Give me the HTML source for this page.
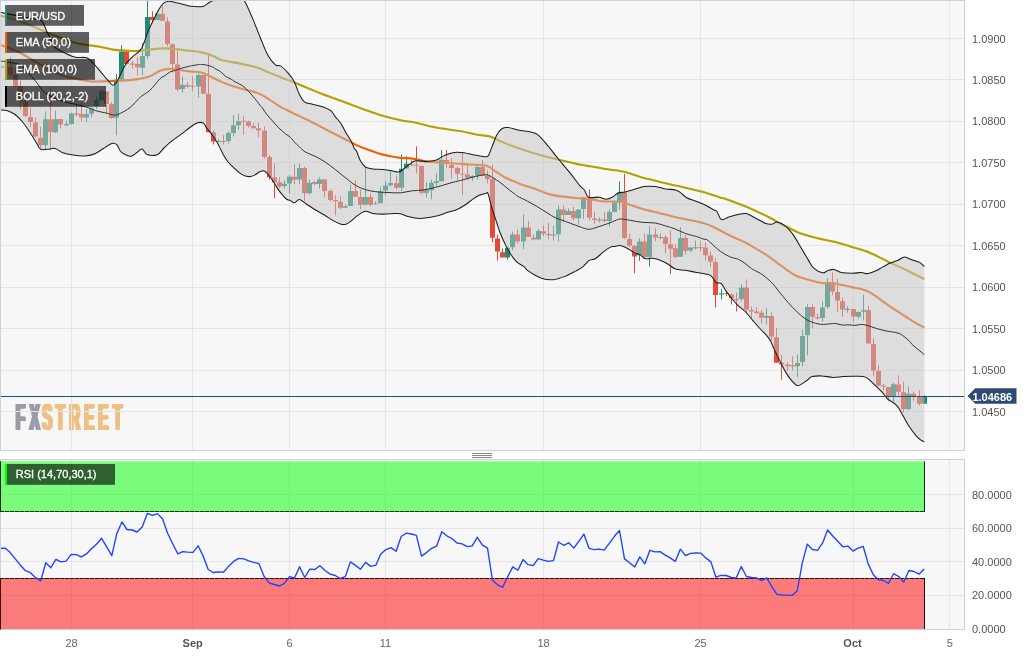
<!DOCTYPE html>
<html lang="en"><head><meta charset="utf-8"><title>EUR/USD chart</title>
<style>html,body{margin:0;padding:0;background:#fff}body{width:1035px;height:656px;overflow:hidden}svg{display:block;will-change:transform}text{font-family:"Liberation Sans",Arial,sans-serif;font-size:11px}</style></head><body>
<svg width="1035" height="656" viewBox="0 0 1035 656">
<defs><clipPath id="cm"><rect x="0" y="0" width="964" height="450"/></clipPath><clipPath id="cr"><rect x="0" y="460" width="964" height="170"/></clipPath></defs>
<rect width="1035" height="656" fill="#fff"/>
<rect x="0" y="0" width="964.5" height="450.5" fill="#f7f7f7"/>
<defs><g id="lg" transform="scale(0.405,1)" font-weight="bold"><text y="0" style="font-size:37.5px"><tspan x="36.0 69.9" fill="#9a9da8">FX</tspan><tspan x="100.7 134.6 167.7 204.9 239.3 275.8" fill="#efc084">STREET</tspan></text></g></defs>
<use href="#lg" x="0.00" y="430.2"/>
<use href="#lg" x="0.65" y="430.2"/>
<use href="#lg" x="1.30" y="430.2"/>
<use href="#lg" x="1.95" y="430.2"/>
<use href="#lg" x="2.60" y="430.2"/>
<path d="M0,38.5H964M0,79.5H964M0,121.5H964M0,162.5H964M0,204.5H964M0,245.5H964M0,287.5H964M0,328.5H964M0,370.5H964M0,411.5H964M71.5,0V450M192.5,0V450M289.5,0V450M385.5,0V450M543.5,0V450M700.5,0V450M853.5,0V450M949.5,0V450" stroke="#e5e5e5" stroke-width="1" fill="none"/>
<g clip-path="url(#cm)">
<path d="M0.5,64.6V70.0M5.5,66.0V68.0M45.5,111.3V149.0M55.5,110.3V133.3M66.5,120.8V126.4M71.5,112.7V124.5M86.5,109.4V122.0M91.5,107.0V117.4M96.5,96.3V108.8M101.5,89.1V100.2M116.5,74.1V135.3M121.5,45.2V79.8M142.5,43.3V75.4M147.5,0.0V59.0M157.5,13.8V20.1M182.5,76.3V92.7M198.5,73.2V97.7M218.5,138.9V142.0M228.5,131.3V143.6M233.5,115.2V136.5M238.5,113.5V129.8M284.5,180.3V188.5M289.5,175.0V193.5M299.5,163.6V184.3M309.5,179.6V194.5M319.5,177.3V188.4M345.5,204.7V207.8M350.5,184.6V205.9M365.5,167.6V205.3M375.5,201.3V204.3M380.5,186.5V203.2M385.5,180.8V195.3M390.5,170.1V186.5M401.5,154.4V191.0M406.5,156.3V168.5M426.5,182.5V197.6M431.5,179.6V199.3M436.5,173.3V186.5M441.5,150.1V181.5M472.5,175.2V180.9M477.5,165.8V179.6M507.5,246.6V259.7M512.5,231.5V250.3M523.5,214.5V249.1M538.5,229.2V239.6M553.5,225.5V240.3M558.5,205.7V241.5M568.5,208.2V214.9M578.5,209.5V224.6M583.5,197.6V219.2M599.5,217.5V222.5M609.5,209.6V226.3M614.5,199.9V212.1M619.5,181.3V210.2M639.5,238.3V260.9M649.5,226.4V266.5M660.5,233.9V239.5M680.5,227.3V256.7M690.5,247.4V252.4M695.5,240.6V249.5M721.5,288.8V299.5M741.5,284.3V301.4M766.5,308.3V324.2M797.5,354.6V377.2M802.5,329.6V366.3M807.5,304.2V355.2M822.5,301.5V321.5M827.5,278.3V308.7M847.5,306.2V312.8M858.5,311.3V318.7M863.5,294.5V320.3M893.5,382.7V401.6M908.5,386.3V410.4M924.5,395.3V403.8" stroke="#278b74" stroke-width="1" fill="none"/>
<path d="M10.5,57.0V78.0M15.5,68.3V86.5M20.5,80.5V109.4M25.5,100.0V117.0M30.5,107.6V127.0M35.5,117.6V137.5M40.5,127.0V147.8M50.5,86.6V149.6M60.5,118.9V128.3M76.5,103.2V116.4M81.5,102.5V121.4M106.5,91.4V112.8M111.5,102.0V118.9M126.5,51.5V64.1M132.5,60.9V68.5M137.5,57.2V75.4M152.5,11.3V23.2M162.5,5.7V20.7M167.5,17.6V46.5M172.5,43.3V72.6M177.5,50.3V90.8M187.5,82.0V88.3M192.5,76.3V91.4M203.5,75.1V93.7M208.5,53.4V132.2M213.5,130.2V144.5M223.5,135.2V144.5M243.5,116.4V134.4M248.5,120.7V127.6M253.5,123.3V128.6M258.5,122.4V137.5M264.5,126.4V158.7M269.5,155.2V179.7M274.5,163.4V198.0M279.5,177.2V188.5M294.5,164.2V184.3M304.5,166.6V200.9M314.5,180.8V185.2M324.5,179.4V197.1M330.5,189.2V201.3M335.5,195.3V215.4M340.5,196.5V209.3M355.5,180.6V197.1M360.5,189.6V209.3M370.5,193.4V206.6M396.5,175.5V189.6M411.5,160.4V166.4M416.5,146.3V173.3M421.5,166.0V194.7M446.5,150.1V167.7M451.5,158.2V178.3M457.5,166.4V180.2M462.5,153.2V195.3M467.5,163.6V180.2M482.5,160.1V175.8M487.5,170.2V183.4M492.5,164.5V242.2M497.5,234.6V260.4M502.5,248.4V257.6M517.5,229.6V243.4M528.5,220.8V237.1M533.5,234.6V240.5M543.5,225.5V236.3M548.5,222.7V239.6M563.5,205.7V222.4M573.5,206.6V220.4M589.5,189.4V220.2M594.5,211.5V224.0M604.5,212.5V222.5M624.5,173.8V239.3M629.5,233.3V247.0M634.5,245.8V273.4M644.5,233.6V259.0M655.5,228.3V241.2M665.5,235.2V253.3M670.5,230.5V274.3M675.5,244.3V258.3M685.5,235.2V254.6M700.5,241.2V251.4M705.5,242.5V260.2M710.5,251.4V267.1M715.5,258.3V307.4M726.5,292.0V296.0M731.5,293.2V304.5M736.5,292.6V311.5M746.5,279.4V313.3M751.5,306.7V318.4M756.5,307.4V314.0M761.5,310.5V323.3M771.5,312.5V340.8M776.5,327.7V362.7M781.5,354.6V379.7M787.5,362.5V370.9M792.5,356.5V370.3M812.5,304.2V328.4M817.5,313.4V319.7M832.5,272.4V295.2M837.5,278.7V311.5M842.5,297.4V316.5M853.5,309.0V322.3M868.5,305.5V343.5M873.5,338.2V376.2M878.5,365.3V386.5M883.5,384.0V390.3M888.5,387.1V400.3M898.5,375.2V395.3M903.5,381.5V412.3M913.5,391.5V401.0M919.5,390.3V405.4" stroke="#e04c38" stroke-width="1" fill="none"/>
<path d="M-2.0,66.6h5v1.0h-5zM3.0,66.7h5v0.9h-5zM43.0,119.2h5v25.7h-5zM53.0,119.2h5v13.1h-5zM64.0,124.1h5v1.1h-5zM69.0,113.6h5v10.5h-5zM84.0,114.1h5v3.3h-5zM89.0,108.2h5v5.6h-5zM94.0,100.0h5v5.7h-5zM99.0,90.8h5v9.4h-5zM114.0,79.8h5v37.9h-5zM119.0,51.5h5v28.3h-5zM140.0,55.9h5v11.9h-5zM145.0,17.0h5v38.9h-5zM155.0,13.8h5v6.3h-5zM180.0,85.1h5v3.8h-5zM196.0,75.1h5v11.5h-5zM216.0,141.1h5v0.9h-5zM226.0,133.0h5v8.1h-5zM231.0,125.2h5v7.8h-5zM236.0,121.2h5v4.0h-5zM282.0,183.8h5v2.2h-5zM287.0,176.8h5v6.8h-5zM297.0,167.9h5v11.7h-5zM307.0,182.7h5v10.6h-5zM317.0,179.5h5v4.4h-5zM343.0,206.3h5v1.5h-5zM348.0,190.9h5v15.0h-5zM363.0,197.1h5v7.6h-5zM373.0,203.4h5v0.9h-5zM378.0,191.5h5v11.7h-5zM383.0,185.5h5v5.0h-5zM388.0,183.1h5v2.1h-5zM399.0,168.8h5v18.9h-5zM404.0,163.8h5v4.7h-5zM424.0,190.3h5v2.5h-5zM429.0,182.7h5v7.6h-5zM434.0,181.2h5v1.8h-5zM439.0,160.1h5v21.1h-5zM470.0,176.1h5v0.9h-5zM475.0,167.0h5v8.8h-5zM505.0,247.8h5v9.8h-5zM510.0,234.4h5v12.8h-5zM521.0,227.5h5v14.0h-5zM536.0,230.9h5v8.7h-5zM551.0,234.6h5v0.9h-5zM556.0,209.5h5v24.7h-5zM566.0,211.1h5v3.8h-5zM576.0,209.5h5v8.8h-5zM581.0,197.6h5v11.3h-5zM597.0,219.5h5v0.9h-5zM607.0,212.1h5v8.8h-5zM612.0,202.7h5v9.4h-5zM617.0,192.6h5v10.1h-5zM637.0,241.4h5v13.8h-5zM647.0,234.6h5v22.5h-5zM658.0,237.0h5v0.9h-5zM678.0,238.0h5v18.7h-5zM688.0,247.4h5v3.0h-5zM693.0,247.3h5v0.9h-5zM719.0,293.4h5v1.0h-5zM739.0,287.6h5v11.3h-5zM764.0,316.0h5v1.8h-5zM795.0,363.0h5v3.3h-5zM800.0,336.1h5v26.0h-5zM805.0,307.0h5v28.2h-5zM820.0,307.5h5v10.4h-5zM825.0,282.6h5v24.5h-5zM845.0,308.7h5v1.2h-5zM856.0,312.1h5v4.6h-5zM861.0,310.3h5v1.5h-5zM891.0,384.2h5v11.7h-5zM906.0,393.8h5v15.3h-5zM922.0,396.6h5v7.2h-5z" fill="#278b74"/>
<path d="M8.0,67.1h5v7.6h-5zM13.0,74.7h5v11.3h-5zM18.0,86.0h5v15.5h-5zM23.0,101.5h5v14.6h-5zM28.0,117.0h5v5.0h-5zM33.0,122.6h5v13.9h-5zM38.0,137.7h5v7.6h-5zM48.0,119.2h5v12.9h-5zM58.0,118.9h5v5.6h-5zM74.0,113.6h5v1.2h-5zM79.0,114.1h5v3.5h-5zM104.0,91.4h5v12.6h-5zM109.0,104.0h5v13.9h-5zM124.0,51.5h5v12.6h-5zM130.0,63.4h5v1.3h-5zM135.0,64.1h5v3.1h-5zM150.0,17.0h5v3.1h-5zM160.0,13.8h5v6.9h-5zM165.0,21.4h5v22.6h-5zM170.0,44.6h5v19.4h-5zM175.0,64.4h5v25.1h-5zM185.0,85.1h5v1.3h-5zM190.0,85.8h5v0.9h-5zM201.0,75.1h5v18.6h-5zM206.0,93.7h5v38.5h-5zM211.0,132.2h5v9.4h-5zM221.0,141.1h5v0.9h-5zM241.0,120.8h5v0.9h-5zM246.0,121.6h5v4.5h-5zM251.0,126.1h5v2.2h-5zM256.0,128.3h5v2.1h-5zM262.0,130.7h5v26.4h-5zM267.0,157.1h5v20.1h-5zM272.0,177.2h5v5.0h-5zM277.0,182.2h5v4.2h-5zM292.0,176.8h5v3.0h-5zM302.0,167.9h5v25.4h-5zM312.0,182.1h5v1.9h-5zM322.0,179.4h5v11.5h-5zM328.0,190.9h5v9.1h-5zM333.0,200.0h5v1.2h-5zM338.0,201.8h5v6.0h-5zM353.0,190.9h5v5.9h-5zM358.0,197.1h5v7.6h-5zM368.0,197.1h5v7.6h-5zM394.0,183.0h5v4.7h-5zM409.0,164.2h5v0.9h-5zM414.0,164.7h5v1.0h-5zM419.0,166.0h5v26.8h-5zM444.0,160.1h5v3.8h-5zM449.0,164.9h5v3.0h-5zM455.0,167.9h5v5.8h-5zM460.0,173.7h5v0.9h-5zM465.0,174.6h5v3.1h-5zM480.0,167.0h5v8.8h-5zM485.0,175.8h5v3.2h-5zM490.0,179.0h5v58.8h-5zM495.0,238.4h5v13.2h-5zM500.0,252.2h5v5.4h-5zM515.0,234.4h5v7.1h-5zM526.0,227.5h5v9.6h-5zM531.0,237.8h5v1.8h-5zM541.0,231.2h5v2.5h-5zM546.0,234.0h5v1.3h-5zM561.0,209.5h5v5.4h-5zM571.0,211.1h5v7.2h-5zM587.0,197.6h5v20.1h-5zM592.0,218.4h5v1.6h-5zM602.0,219.6h5v1.3h-5zM622.0,192.6h5v45.4h-5zM627.0,239.0h5v6.8h-5zM632.0,245.8h5v10.7h-5zM642.0,241.4h5v15.7h-5zM653.0,234.6h5v3.0h-5zM663.0,237.2h5v6.9h-5zM668.0,244.3h5v4.4h-5zM673.0,248.3h5v8.8h-5zM683.0,238.0h5v12.8h-5zM698.0,247.3h5v0.9h-5zM703.0,247.4h5v7.8h-5zM708.0,255.5h5v6.2h-5zM713.0,262.1h5v32.8h-5zM724.0,293.2h5v0.9h-5zM729.0,294.5h5v3.8h-5zM734.0,298.9h5v1.0h-5zM744.0,287.6h5v22.0h-5zM749.0,309.9h5v1.6h-5zM754.0,311.5h5v1.5h-5zM759.0,312.7h5v5.1h-5zM769.0,316.0h5v20.5h-5zM774.0,337.3h5v25.4h-5zM779.0,362.7h5v1.5h-5zM785.0,364.6h5v1.3h-5zM790.0,365.3h5v1.2h-5zM810.0,307.0h5v9.7h-5zM815.0,317.2h5v1.2h-5zM830.0,282.5h5v8.9h-5zM835.0,292.0h5v8.4h-5zM840.0,301.2h5v8.4h-5zM851.0,309.0h5v7.5h-5zM866.0,310.3h5v33.2h-5zM871.0,343.9h5v26.7h-5zM876.0,371.0h5v14.5h-5zM881.0,385.5h5v1.0h-5zM886.0,387.1h5v9.2h-5zM896.0,384.6h5v7.2h-5zM901.0,392.2h5v16.9h-5zM911.0,393.8h5v2.1h-5zM917.0,395.9h5v7.9h-5z" fill="#e04c38"/>
<path d="M0.0,44.8C2.9,45.9 11.3,48.5 17.6,51.5C23.9,54.5 30.2,58.9 37.7,62.9C45.2,66.9 54.5,72.4 62.9,75.4C71.3,78.4 81.8,80.0 88.0,81.0C94.2,82.0 95.9,81.4 100.0,81.4C104.1,81.4 108.4,81.2 112.6,81.0C116.8,80.8 120.9,80.7 125.1,80.4C129.3,80.1 133.5,79.8 137.7,79.1C141.8,78.4 146.3,77.7 150.0,76.3C153.7,74.9 156.7,72.0 160.0,70.7C163.3,69.5 166.5,68.9 170.1,68.8C173.7,68.7 177.8,69.8 181.4,70.3C185.0,70.8 188.3,71.3 191.5,71.6C194.7,71.9 197.4,71.6 200.3,72.3C203.2,73.0 205.7,74.2 209.0,75.7C212.3,77.2 216.6,79.7 220.4,81.4C224.2,83.1 227.7,84.5 231.7,85.8C235.7,87.1 240.0,88.3 244.2,89.5C248.4,90.7 253.2,91.4 256.8,92.7C260.4,94.0 261.7,94.8 265.6,97.1C269.5,99.4 277.1,104.7 280.0,106.5C282.9,108.3 280.5,106.8 283.0,108.1C285.5,109.3 290.8,112.0 295.0,114.0C299.2,116.0 303.9,118.2 308.1,120.2C312.3,122.2 316.2,124.3 320.0,126.3C323.8,128.3 327.3,130.2 330.8,132.0C334.3,133.8 337.6,135.5 341.0,137.2C344.4,138.9 348.5,140.9 350.9,142.1C353.3,143.3 352.9,143.5 355.3,144.6C357.7,145.7 361.6,147.4 365.4,148.8C369.2,150.2 373.7,151.9 377.9,153.2C382.1,154.4 386.7,155.5 390.5,156.3C394.3,157.1 397.2,157.6 400.6,157.9C404.0,158.2 407.8,158.1 410.6,158.4C413.4,158.7 415.0,159.0 417.6,159.5C420.2,160.0 422.8,160.9 426.4,161.4C430.0,161.9 434.8,162.1 439.0,162.4C443.2,162.7 447.3,163.0 451.5,163.3C455.7,163.6 459.9,163.8 464.1,164.1C468.3,164.4 472.7,164.6 476.7,164.9C480.7,165.2 484.9,165.1 488.0,166.2C491.1,167.3 492.6,169.5 495.5,171.4C498.4,173.3 502.2,175.9 505.6,177.7C509.0,179.5 512.8,180.9 515.6,182.1C518.5,183.3 519.8,184.0 522.7,185.0C525.6,186.0 529.4,186.9 532.8,188.1C536.1,189.2 539.4,190.7 542.8,191.9C546.1,193.1 549.1,194.3 552.9,195.1C556.7,195.9 561.2,196.4 565.4,196.9C569.6,197.4 574.2,197.9 578.0,198.2C581.8,198.5 584.6,198.2 588.0,198.6C591.4,199.0 595.7,200.2 598.1,200.7C600.5,201.2 598.9,201.2 602.6,201.4C606.3,201.6 616.0,201.4 620.2,201.8C624.4,202.2 624.4,202.8 627.7,203.9C631.1,205.0 636.1,207.0 640.3,208.3C644.5,209.6 648.6,210.4 652.8,211.5C657.0,212.6 661.2,213.6 665.4,214.6C669.6,215.6 673.7,216.8 677.9,217.7C682.1,218.6 686.3,219.4 690.5,220.3C694.7,221.2 699.4,222.0 703.1,223.1C706.9,224.2 709.7,225.3 713.0,226.8C716.3,228.3 719.6,230.3 723.0,232.0C726.4,233.7 729.4,235.3 733.1,237.0C736.8,238.7 742.5,241.2 745.0,242.4C747.5,243.6 745.3,242.4 748.4,244.2C751.5,246.0 758.8,250.1 763.4,253.0C768.0,255.9 772.2,259.1 776.0,261.8C779.8,264.5 782.8,267.1 786.1,269.4C789.5,271.7 793.0,274.1 796.1,275.7C799.2,277.3 801.9,277.8 805.0,278.8C808.1,279.8 811.9,280.9 815.0,281.6C818.1,282.3 820.6,282.9 823.8,283.2C826.9,283.5 830.8,282.9 833.9,283.2C837.0,283.5 839.6,284.4 842.7,285.1C845.8,285.8 849.4,286.7 852.7,287.4C856.1,288.1 859.9,288.6 862.8,289.5C865.7,290.4 867.4,291.0 870.3,292.7C873.2,294.4 876.6,297.0 880.4,299.6C884.2,302.2 888.7,305.6 892.9,308.4C897.1,311.2 901.7,314.1 905.5,316.5C909.3,318.9 912.5,321.0 915.6,322.8C918.7,324.6 922.8,326.7 924.3,327.5" stroke="#f06000" stroke-width="2.1" fill="none" stroke-linejoin="round"/>
<path d="M0.0,15.6C2.5,16.3 9.6,17.8 15.0,19.6C20.4,21.4 26.8,24.0 32.7,26.4C38.6,28.8 43.2,31.2 50.3,33.9C57.4,36.6 67.1,40.6 75.4,42.7C83.7,44.8 93.8,45.6 100.0,46.7C106.2,47.9 108.4,49.0 112.6,49.6C116.8,50.2 120.9,50.4 125.1,50.6C129.3,50.8 133.5,51.1 137.7,50.9C141.9,50.7 146.1,50.0 150.3,49.6C154.5,49.2 158.6,48.5 162.8,48.4C167.0,48.3 171.2,48.6 175.4,49.0C179.6,49.4 183.7,50.1 187.9,50.6C192.1,51.1 196.3,51.2 200.5,52.1C204.7,53.0 209.6,54.6 213.1,55.9C216.6,57.2 217.5,58.8 221.6,60.0C225.7,61.2 232.0,61.9 237.9,63.1C243.8,64.3 251.6,65.9 256.8,67.5C262.0,69.1 265.4,71.0 269.3,72.6C273.2,74.2 275.6,75.3 280.0,77.0C284.4,78.7 290.5,81.0 295.5,83.0C300.5,85.0 305.4,87.1 310.0,89.0C314.6,90.9 317.0,92.0 322.9,94.3C328.8,96.6 339.3,100.3 345.5,102.6C351.7,104.9 354.1,105.9 360.0,108.0C365.9,110.1 373.9,113.2 380.7,115.2C387.5,117.2 394.9,119.0 400.8,120.2C406.7,121.5 410.0,121.5 415.9,122.7C421.8,123.9 428.4,126.1 436.0,127.5C443.6,128.9 454.0,130.1 461.2,131.3C468.4,132.6 474.5,134.2 479.2,135.0C483.9,135.8 485.8,135.4 489.2,136.3C492.6,137.2 496.1,139.3 499.3,140.7C502.5,142.0 505.2,143.2 508.1,144.4C511.0,145.6 514.1,146.6 516.9,147.6C519.7,148.6 521.0,149.0 525.0,150.3C529.0,151.6 534.8,153.5 540.8,155.2C546.8,156.8 554.2,158.6 560.9,160.2C567.6,161.8 576.1,163.8 581.0,164.8C585.9,165.8 586.4,165.7 590.0,166.3C593.6,166.9 597.8,167.8 602.6,168.5C607.4,169.2 614.7,170.0 618.9,170.7C623.1,171.4 624.1,171.8 627.7,172.8C631.3,173.8 636.1,175.7 640.3,176.9C644.5,178.1 648.6,179.1 652.8,180.1C657.0,181.1 661.2,182.2 665.4,183.2C669.6,184.2 673.7,185.1 677.9,186.1C682.1,187.1 686.3,187.9 690.5,188.9C694.7,189.9 698.2,190.6 703.1,192.0C708.0,193.4 716.2,196.2 720.0,197.4C723.8,198.6 721.4,197.5 725.7,199.0C730.0,200.5 739.1,203.7 745.8,206.5C752.5,209.3 760.1,212.9 766.0,215.8C771.9,218.7 777.4,222.2 781.0,224.1C784.6,226.0 784.4,225.7 787.6,227.2C790.8,228.7 795.1,231.4 800.1,233.2C805.1,235.0 811.8,236.7 817.7,238.2C823.6,239.7 829.8,240.6 835.3,242.0C840.8,243.4 845.4,245.0 850.4,246.5C855.4,248.0 860.9,249.3 865.5,251.0C870.1,252.7 873.9,254.6 878.1,256.6C882.3,258.6 886.1,260.7 890.7,262.9C895.3,265.1 900.2,267.2 905.8,269.9C911.4,272.6 921.2,277.5 924.3,279.0" stroke="#b3a100" stroke-width="2.1" fill="none" stroke-linejoin="round"/>
<path d="M0.0,12.3C3.3,13.0 14.0,15.1 20.0,16.3C26.0,17.5 32.4,18.7 36.0,19.5C39.6,20.3 40.1,19.8 41.5,20.9C42.9,22.0 43.6,24.1 44.5,26.0C45.4,27.9 45.9,29.7 47.0,32.0C48.1,34.3 49.6,37.4 51.0,40.0C52.4,42.6 53.0,45.5 55.3,47.7C57.6,49.9 61.6,51.4 65.0,53.0C68.3,54.6 71.8,56.4 75.4,57.2C79.0,58.0 83.8,56.8 86.7,57.8C89.6,58.8 90.7,60.7 93.0,63.0C95.3,65.3 98.0,68.7 100.5,71.6C103.0,74.5 105.9,78.1 108.0,80.4C110.1,82.7 111.4,85.3 113.0,85.3C114.6,85.3 115.6,83.7 117.6,80.4C119.6,77.1 122.8,69.1 125.1,65.3C127.4,61.5 128.9,60.3 131.4,57.8C133.9,55.3 138.1,52.8 140.2,50.3C142.3,47.8 142.7,45.9 144.0,42.7C145.3,39.6 146.4,35.4 148.1,31.4C149.8,27.4 152.2,22.4 154.0,18.8C155.8,15.2 157.2,12.2 158.8,9.6C160.4,7.0 161.6,4.8 163.3,3.4C165.0,2.0 166.7,1.4 169.1,1.3C171.5,1.2 174.8,2.4 177.9,3.1C181.0,3.8 185.0,5.1 187.9,5.7C190.8,6.3 193.0,6.4 195.5,6.5C198.0,6.6 200.7,7.2 203.0,6.5C205.3,5.8 207.5,3.6 209.3,2.5C211.1,1.4 211.9,1.2 213.7,0.0C215.5,-1.2 217.4,-3.7 220.0,-5.0C222.6,-6.3 226.0,-8.0 229.0,-8.0C232.0,-8.0 235.5,-6.3 238.0,-5.0C240.5,-3.7 241.5,-4.0 244.0,0.0C246.5,4.0 250.1,12.6 252.8,18.9C255.5,25.2 257.8,31.6 260.3,37.7C262.8,43.8 265.4,50.8 267.9,55.3C270.4,59.8 273.3,63.1 275.4,64.9C277.5,66.7 278.4,64.6 280.5,65.9C282.6,67.2 285.7,70.3 288.0,72.9C290.3,75.5 292.4,78.1 294.3,81.7C296.2,85.3 297.6,91.0 299.3,94.3C301.0,97.6 302.1,100.1 304.4,101.8C306.7,103.5 310.0,103.6 313.1,104.4C316.2,105.2 320.2,105.9 323.2,106.9C326.1,107.9 328.8,108.9 330.8,110.6C332.8,112.3 333.7,114.8 335.4,116.9C337.1,119.0 339.1,120.7 340.8,123.2C342.5,125.7 343.8,129.1 345.5,132.0C347.2,134.9 349.4,138.1 350.9,140.8C352.4,143.5 353.4,146.7 354.3,148.4C355.2,150.2 355.6,149.2 356.6,151.3C357.6,153.4 358.9,158.1 360.4,160.7C361.9,163.3 363.3,165.6 365.4,167.0C367.5,168.4 370.0,168.5 372.9,168.9C375.8,169.3 380.1,169.2 383.0,169.5C385.9,169.8 387.9,170.1 390.5,170.5C393.1,170.9 396.6,172.2 398.7,172.0C400.8,171.8 401.3,170.8 403.1,169.5C404.9,168.2 407.2,165.9 409.3,164.5C411.4,163.1 412.9,161.3 415.7,160.8C418.5,160.3 422.9,161.7 426.4,161.6C429.9,161.5 433.8,161.0 436.5,160.1C439.2,159.2 440.6,157.4 442.7,156.4C444.8,155.4 446.7,154.5 449.0,153.8C451.3,153.1 454.1,152.5 456.6,152.3C459.1,152.1 461.4,152.4 464.1,152.8C466.8,153.2 469.8,154.2 472.9,154.8C476.0,155.4 480.4,156.2 482.9,156.4C485.4,156.6 486.5,157.6 488.0,156.1C489.5,154.6 490.2,151.1 491.7,147.6C493.2,144.1 495.1,138.2 496.8,135.1C498.5,132.0 499.9,130.1 501.8,128.8C503.7,127.5 505.4,127.3 508.1,127.5C510.8,127.7 514.4,129.3 518.2,130.1C522.0,130.9 527.4,131.3 530.8,132.1C534.1,132.9 535.4,132.7 538.3,135.1C541.2,137.5 545.0,142.4 548.4,146.4C551.8,150.4 554.6,154.4 558.4,159.0C562.2,163.6 567.5,169.8 571.0,174.1C574.5,178.4 577.0,182.3 579.2,185.0C581.4,187.7 582.8,188.0 584.3,190.0C585.8,192.0 586.5,195.6 588.0,196.9C589.5,198.2 591.2,197.6 593.1,197.6C595.0,197.6 597.1,196.9 599.3,197.2C601.5,197.5 604.1,199.2 606.3,199.2C608.5,199.2 610.6,198.1 612.6,197.0C614.6,195.9 616.2,193.7 618.3,192.9C620.4,192.1 622.6,192.6 625.2,192.0C627.8,191.4 630.9,190.4 634.0,189.5C637.1,188.6 640.5,187.1 644.0,186.6C647.5,186.1 651.7,186.2 655.3,186.6C658.9,187.0 662.0,188.3 665.4,188.9C668.8,189.5 672.9,189.3 675.4,189.9C677.9,190.5 678.6,191.3 680.5,192.6C682.4,193.9 684.0,196.2 686.7,197.7C689.4,199.2 693.6,200.2 696.8,201.4C699.9,202.7 702.9,203.8 705.6,205.2C708.3,206.6 711.2,208.5 713.1,209.6C715.0,210.7 715.5,209.8 716.9,211.5C718.3,213.2 719.5,218.6 721.4,219.6C723.3,220.6 725.6,218.1 728.2,217.3C730.8,216.5 734.1,215.4 737.0,214.8C739.9,214.2 742.6,213.0 745.8,213.6C748.9,214.2 752.5,216.6 755.9,218.3C759.3,220.0 763.3,222.6 766.0,223.6C768.7,224.6 770.3,224.3 772.2,224.1C774.1,223.8 775.0,221.7 777.3,222.1C779.6,222.5 783.4,224.4 786.1,226.6C788.8,228.8 791.1,231.8 793.6,235.4C796.1,239.0 798.7,243.8 801.2,248.0C803.7,252.2 806.6,257.2 808.7,260.6C810.8,264.0 811.4,266.1 813.7,268.1C816.0,270.1 820.3,272.4 822.6,272.8C824.9,273.2 825.7,271.3 827.6,270.7C829.5,270.1 831.6,269.1 833.9,269.4C836.2,269.7 838.3,272.0 841.4,272.6C844.5,273.2 849.4,273.2 852.7,273.2C856.1,273.2 859.0,272.5 861.5,272.6C864.0,272.7 865.5,273.9 867.8,273.6C870.1,273.4 872.9,272.2 875.4,271.1C877.9,270.0 880.4,268.2 882.9,266.9C885.4,265.6 887.9,264.2 890.4,263.1C892.9,262.0 895.6,261.2 898.0,260.2C900.4,259.2 902.2,257.2 904.5,257.1C906.8,257.0 909.5,258.9 912.0,259.8C914.5,260.7 917.6,261.3 919.6,262.4C921.6,263.5 923.5,265.9 924.3,266.6L924.3,441.6C923.8,441.4 922.6,441.4 921.3,440.4C919.9,439.4 918.3,438.2 916.2,435.8C914.1,433.4 911.2,429.6 908.7,425.8C906.2,422.0 903.3,416.1 901.5,412.9C899.7,409.7 899.2,408.4 897.7,406.6C896.2,404.8 894.4,403.4 892.7,402.2C891.0,400.9 889.4,400.7 887.7,399.1C886.0,397.5 884.8,395.1 882.7,392.8C880.6,390.5 877.6,387.7 875.1,385.3C872.6,382.9 869.6,379.8 867.6,378.3C865.6,376.8 865.4,376.7 863.0,376.4C860.6,376.1 856.4,376.3 853.0,376.3C849.6,376.3 846.2,376.4 842.9,376.6C839.5,376.8 836.4,377.5 832.9,377.4C829.4,377.3 825.0,376.0 821.6,375.9C818.2,375.8 814.5,376.0 812.2,376.6C809.9,377.2 809.6,378.4 807.8,379.7C806.0,380.9 803.3,383.2 801.5,384.1C799.7,385.1 798.8,386.0 797.1,385.4C795.4,384.8 793.2,382.3 791.4,380.3C789.6,378.3 788.1,376.1 786.4,373.4C784.7,370.7 783.1,367.2 781.4,364.0C779.7,360.8 777.6,356.4 776.4,353.9C775.2,351.4 775.1,351.4 774.1,349.1C773.1,346.9 771.6,342.7 770.3,340.4C769.0,338.1 768.2,337.2 766.5,335.3C764.8,333.4 762.6,331.5 760.3,329.0C758.0,326.5 755.2,323.2 752.7,320.3C750.2,317.4 747.5,313.8 745.2,311.5C742.9,309.2 741.0,308.4 738.9,306.4C736.8,304.4 734.7,302.0 732.6,299.5C730.5,297.0 728.2,294.0 726.3,291.4C724.4,288.8 723.0,285.1 721.3,283.6C719.6,282.1 718.0,283.9 716.3,282.6C714.6,281.3 712.9,277.3 711.1,275.9C709.3,274.5 708.1,274.6 705.5,274.0C702.9,273.4 698.8,272.8 695.4,272.2C692.0,271.6 688.8,270.8 685.4,270.3C682.0,269.8 678.2,270.1 675.3,269.0C672.4,267.9 670.3,265.5 667.8,264.0C665.3,262.5 662.7,261.1 660.2,260.2C657.7,259.2 655.2,258.6 652.7,258.3C650.2,258.1 647.3,259.3 645.2,258.7C643.1,258.1 642.0,255.9 640.1,254.9C638.2,253.9 636.1,253.6 633.8,252.4C631.5,251.2 628.6,248.8 626.3,247.7C624.0,246.5 621.9,245.7 620.0,245.5C618.1,245.3 616.7,246.1 615.0,246.4C613.3,246.7 612.0,246.4 610.0,247.4C608.0,248.4 605.5,250.3 603.1,252.2C600.7,254.0 597.9,257.1 595.6,258.5C593.3,259.9 591.4,259.0 589.3,260.4C587.2,261.8 585.2,264.9 583.0,266.7C580.8,268.4 578.8,269.4 576.0,270.9C573.2,272.4 569.8,274.4 566.0,275.9C562.2,277.4 557.6,279.4 553.4,279.7C549.2,280.0 545.0,279.4 540.8,277.9C536.6,276.4 531.0,272.8 528.2,270.9C525.4,269.0 526.0,268.2 524.0,266.7C522.0,265.1 518.7,263.8 516.4,261.6C514.1,259.4 512.1,256.4 510.2,253.5C508.3,250.6 506.8,247.5 505.1,244.0C503.4,240.5 501.8,237.1 500.1,232.7C498.4,228.3 496.7,222.5 495.1,217.7C493.5,212.9 491.9,207.9 490.7,203.8C489.5,199.8 488.9,195.1 488.0,193.4C487.1,191.7 487.0,193.1 485.5,193.4C484.0,193.7 481.3,194.4 479.2,195.3C477.1,196.2 475.2,197.5 472.9,199.1C470.6,200.7 468.1,202.9 465.4,204.7C462.7,206.5 459.5,208.4 456.6,209.7C453.7,211.0 451.4,211.2 447.8,212.3C444.2,213.4 439.8,215.3 435.2,216.3C430.6,217.3 424.5,218.4 420.0,218.5C415.5,218.6 411.3,217.4 408.1,216.6C404.9,215.8 402.9,214.3 400.6,213.8C398.3,213.3 397.2,213.4 394.3,213.5C391.4,213.6 386.6,214.1 383.0,214.1C379.4,214.1 375.8,214.0 372.9,213.5C370.0,213.0 367.9,211.0 365.4,211.3C362.9,211.6 360.3,213.7 357.8,215.4C355.3,217.1 352.4,220.1 350.3,221.6C348.2,223.1 347.0,224.0 345.3,224.4C343.6,224.8 342.4,224.6 340.3,223.9C338.2,223.2 335.4,221.9 332.7,220.4C330.0,218.9 326.8,216.5 323.9,214.7C321.0,212.9 318.0,211.5 315.1,209.7C312.2,207.9 308.9,205.7 306.3,204.0C303.7,202.3 301.4,199.8 299.4,199.6C297.4,199.4 296.0,202.7 294.4,202.8C292.8,202.9 291.3,200.9 290.0,200.3C288.7,199.7 287.9,200.1 286.7,199.3C285.5,198.5 284.4,197.1 282.9,195.4C281.4,193.7 279.6,191.5 277.9,189.1C276.2,186.7 274.6,183.5 272.9,181.0C271.2,178.5 269.4,175.7 267.9,174.0C266.4,172.3 265.5,171.3 264.1,170.9C262.7,170.5 261.2,171.2 259.7,171.8C258.2,172.4 256.9,173.9 255.3,174.7C253.7,175.5 252.0,176.4 250.3,176.6C248.6,176.8 247.0,176.4 245.3,175.9C243.6,175.4 242.1,174.8 240.2,173.4C238.3,172.1 236.0,169.8 233.9,167.8C231.8,165.8 229.6,163.9 227.7,161.5C225.8,159.1 224.3,156.3 222.6,153.3C220.9,150.3 219.4,146.5 217.6,143.3C215.8,140.1 213.4,136.7 211.6,134.1C209.8,131.5 207.9,129.6 206.5,127.8C205.1,126.0 204.9,123.9 203.4,123.1C201.9,122.3 199.9,122.1 197.7,122.8C195.5,123.5 192.9,125.3 190.2,127.2C187.5,129.1 184.6,131.7 181.4,134.1C178.2,136.5 173.9,139.3 171.0,141.6C168.1,143.9 166.3,145.8 164.0,148.0C161.7,150.2 160.0,153.6 157.2,154.7C154.4,155.8 149.5,155.3 147.0,154.4C144.5,153.5 143.7,149.4 142.0,149.1C140.3,148.8 138.8,151.3 137.0,152.5C135.2,153.7 133.2,155.8 131.3,156.2C129.4,156.6 127.4,155.5 125.6,154.7C123.8,153.9 122.1,153.2 120.6,151.5C119.1,149.8 118.3,145.9 116.8,144.6C115.3,143.2 113.7,143.0 111.8,143.4C109.9,143.8 108.2,145.4 105.5,147.1C102.8,148.8 98.8,151.9 95.5,153.4C92.2,154.9 89.2,155.6 85.4,155.9C81.6,156.2 76.7,155.6 72.9,155.1C69.1,154.6 65.7,153.9 62.8,152.8C59.9,151.7 57.4,149.0 55.3,148.4C53.2,147.8 52.7,148.8 50.3,149.0C47.9,149.2 43.1,150.4 40.8,149.3C38.5,148.2 38.2,145.5 36.4,142.7C34.6,139.9 32.5,136.1 30.2,132.7C27.9,129.2 25.1,125.0 22.6,122.0C20.1,119.0 17.6,116.4 15.1,114.5C12.6,112.6 10.0,111.5 7.5,110.7C5.0,110.0 1.2,110.1 0.0,110.0Z" fill="rgb(195,195,195)" fill-opacity="0.5"/>
<path d="M0.0,12.3C3.3,13.0 14.0,15.1 20.0,16.3C26.0,17.5 32.4,18.7 36.0,19.5C39.6,20.3 40.1,19.8 41.5,20.9C42.9,22.0 43.6,24.1 44.5,26.0C45.4,27.9 45.9,29.7 47.0,32.0C48.1,34.3 49.6,37.4 51.0,40.0C52.4,42.6 53.0,45.5 55.3,47.7C57.6,49.9 61.6,51.4 65.0,53.0C68.3,54.6 71.8,56.4 75.4,57.2C79.0,58.0 83.8,56.8 86.7,57.8C89.6,58.8 90.7,60.7 93.0,63.0C95.3,65.3 98.0,68.7 100.5,71.6C103.0,74.5 105.9,78.1 108.0,80.4C110.1,82.7 111.4,85.3 113.0,85.3C114.6,85.3 115.6,83.7 117.6,80.4C119.6,77.1 122.8,69.1 125.1,65.3C127.4,61.5 128.9,60.3 131.4,57.8C133.9,55.3 138.1,52.8 140.2,50.3C142.3,47.8 142.7,45.9 144.0,42.7C145.3,39.6 146.4,35.4 148.1,31.4C149.8,27.4 152.2,22.4 154.0,18.8C155.8,15.2 157.2,12.2 158.8,9.6C160.4,7.0 161.6,4.8 163.3,3.4C165.0,2.0 166.7,1.4 169.1,1.3C171.5,1.2 174.8,2.4 177.9,3.1C181.0,3.8 185.0,5.1 187.9,5.7C190.8,6.3 193.0,6.4 195.5,6.5C198.0,6.6 200.7,7.2 203.0,6.5C205.3,5.8 207.5,3.6 209.3,2.5C211.1,1.4 211.9,1.2 213.7,0.0C215.5,-1.2 217.4,-3.7 220.0,-5.0C222.6,-6.3 226.0,-8.0 229.0,-8.0C232.0,-8.0 235.5,-6.3 238.0,-5.0C240.5,-3.7 241.5,-4.0 244.0,0.0C246.5,4.0 250.1,12.6 252.8,18.9C255.5,25.2 257.8,31.6 260.3,37.7C262.8,43.8 265.4,50.8 267.9,55.3C270.4,59.8 273.3,63.1 275.4,64.9C277.5,66.7 278.4,64.6 280.5,65.9C282.6,67.2 285.7,70.3 288.0,72.9C290.3,75.5 292.4,78.1 294.3,81.7C296.2,85.3 297.6,91.0 299.3,94.3C301.0,97.6 302.1,100.1 304.4,101.8C306.7,103.5 310.0,103.6 313.1,104.4C316.2,105.2 320.2,105.9 323.2,106.9C326.1,107.9 328.8,108.9 330.8,110.6C332.8,112.3 333.7,114.8 335.4,116.9C337.1,119.0 339.1,120.7 340.8,123.2C342.5,125.7 343.8,129.1 345.5,132.0C347.2,134.9 349.4,138.1 350.9,140.8C352.4,143.5 353.4,146.7 354.3,148.4C355.2,150.2 355.6,149.2 356.6,151.3C357.6,153.4 358.9,158.1 360.4,160.7C361.9,163.3 363.3,165.6 365.4,167.0C367.5,168.4 370.0,168.5 372.9,168.9C375.8,169.3 380.1,169.2 383.0,169.5C385.9,169.8 387.9,170.1 390.5,170.5C393.1,170.9 396.6,172.2 398.7,172.0C400.8,171.8 401.3,170.8 403.1,169.5C404.9,168.2 407.2,165.9 409.3,164.5C411.4,163.1 412.9,161.3 415.7,160.8C418.5,160.3 422.9,161.7 426.4,161.6C429.9,161.5 433.8,161.0 436.5,160.1C439.2,159.2 440.6,157.4 442.7,156.4C444.8,155.4 446.7,154.5 449.0,153.8C451.3,153.1 454.1,152.5 456.6,152.3C459.1,152.1 461.4,152.4 464.1,152.8C466.8,153.2 469.8,154.2 472.9,154.8C476.0,155.4 480.4,156.2 482.9,156.4C485.4,156.6 486.5,157.6 488.0,156.1C489.5,154.6 490.2,151.1 491.7,147.6C493.2,144.1 495.1,138.2 496.8,135.1C498.5,132.0 499.9,130.1 501.8,128.8C503.7,127.5 505.4,127.3 508.1,127.5C510.8,127.7 514.4,129.3 518.2,130.1C522.0,130.9 527.4,131.3 530.8,132.1C534.1,132.9 535.4,132.7 538.3,135.1C541.2,137.5 545.0,142.4 548.4,146.4C551.8,150.4 554.6,154.4 558.4,159.0C562.2,163.6 567.5,169.8 571.0,174.1C574.5,178.4 577.0,182.3 579.2,185.0C581.4,187.7 582.8,188.0 584.3,190.0C585.8,192.0 586.5,195.6 588.0,196.9C589.5,198.2 591.2,197.6 593.1,197.6C595.0,197.6 597.1,196.9 599.3,197.2C601.5,197.5 604.1,199.2 606.3,199.2C608.5,199.2 610.6,198.1 612.6,197.0C614.6,195.9 616.2,193.7 618.3,192.9C620.4,192.1 622.6,192.6 625.2,192.0C627.8,191.4 630.9,190.4 634.0,189.5C637.1,188.6 640.5,187.1 644.0,186.6C647.5,186.1 651.7,186.2 655.3,186.6C658.9,187.0 662.0,188.3 665.4,188.9C668.8,189.5 672.9,189.3 675.4,189.9C677.9,190.5 678.6,191.3 680.5,192.6C682.4,193.9 684.0,196.2 686.7,197.7C689.4,199.2 693.6,200.2 696.8,201.4C699.9,202.7 702.9,203.8 705.6,205.2C708.3,206.6 711.2,208.5 713.1,209.6C715.0,210.7 715.5,209.8 716.9,211.5C718.3,213.2 719.5,218.6 721.4,219.6C723.3,220.6 725.6,218.1 728.2,217.3C730.8,216.5 734.1,215.4 737.0,214.8C739.9,214.2 742.6,213.0 745.8,213.6C748.9,214.2 752.5,216.6 755.9,218.3C759.3,220.0 763.3,222.6 766.0,223.6C768.7,224.6 770.3,224.3 772.2,224.1C774.1,223.8 775.0,221.7 777.3,222.1C779.6,222.5 783.4,224.4 786.1,226.6C788.8,228.8 791.1,231.8 793.6,235.4C796.1,239.0 798.7,243.8 801.2,248.0C803.7,252.2 806.6,257.2 808.7,260.6C810.8,264.0 811.4,266.1 813.7,268.1C816.0,270.1 820.3,272.4 822.6,272.8C824.9,273.2 825.7,271.3 827.6,270.7C829.5,270.1 831.6,269.1 833.9,269.4C836.2,269.7 838.3,272.0 841.4,272.6C844.5,273.2 849.4,273.2 852.7,273.2C856.1,273.2 859.0,272.5 861.5,272.6C864.0,272.7 865.5,273.9 867.8,273.6C870.1,273.4 872.9,272.2 875.4,271.1C877.9,270.0 880.4,268.2 882.9,266.9C885.4,265.6 887.9,264.2 890.4,263.1C892.9,262.0 895.6,261.2 898.0,260.2C900.4,259.2 902.2,257.2 904.5,257.1C906.8,257.0 909.5,258.9 912.0,259.8C914.5,260.7 917.6,261.3 919.6,262.4C921.6,263.5 923.5,265.9 924.3,266.6" stroke="#1c1c1c" stroke-width="1.05" fill="none"/>
<path d="M0.0,110.0C1.2,110.1 5.0,110.0 7.5,110.7C10.0,111.5 12.6,112.6 15.1,114.5C17.6,116.4 20.1,119.0 22.6,122.0C25.1,125.0 27.9,129.2 30.2,132.7C32.5,136.1 34.6,139.9 36.4,142.7C38.2,145.5 38.5,148.2 40.8,149.3C43.1,150.4 47.9,149.2 50.3,149.0C52.7,148.8 53.2,147.8 55.3,148.4C57.4,149.0 59.9,151.7 62.8,152.8C65.7,153.9 69.1,154.6 72.9,155.1C76.7,155.6 81.6,156.2 85.4,155.9C89.2,155.6 92.2,154.9 95.5,153.4C98.8,151.9 102.8,148.8 105.5,147.1C108.2,145.4 109.9,143.8 111.8,143.4C113.7,143.0 115.3,143.2 116.8,144.6C118.3,145.9 119.1,149.8 120.6,151.5C122.1,153.2 123.8,153.9 125.6,154.7C127.4,155.5 129.4,156.6 131.3,156.2C133.2,155.8 135.2,153.7 137.0,152.5C138.8,151.3 140.3,148.8 142.0,149.1C143.7,149.4 144.5,153.5 147.0,154.4C149.5,155.3 154.4,155.8 157.2,154.7C160.0,153.6 161.7,150.2 164.0,148.0C166.3,145.8 168.1,143.9 171.0,141.6C173.9,139.3 178.2,136.5 181.4,134.1C184.6,131.7 187.5,129.1 190.2,127.2C192.9,125.3 195.5,123.5 197.7,122.8C199.9,122.1 201.9,122.3 203.4,123.1C204.9,123.9 205.1,126.0 206.5,127.8C207.9,129.6 209.8,131.5 211.6,134.1C213.4,136.7 215.8,140.1 217.6,143.3C219.4,146.5 220.9,150.3 222.6,153.3C224.3,156.3 225.8,159.1 227.7,161.5C229.6,163.9 231.8,165.8 233.9,167.8C236.0,169.8 238.3,172.1 240.2,173.4C242.1,174.8 243.6,175.4 245.3,175.9C247.0,176.4 248.6,176.8 250.3,176.6C252.0,176.4 253.7,175.5 255.3,174.7C256.9,173.9 258.2,172.4 259.7,171.8C261.2,171.2 262.7,170.5 264.1,170.9C265.5,171.3 266.4,172.3 267.9,174.0C269.4,175.7 271.2,178.5 272.9,181.0C274.6,183.5 276.2,186.7 277.9,189.1C279.6,191.5 281.4,193.7 282.9,195.4C284.4,197.1 285.5,198.5 286.7,199.3C287.9,200.1 288.7,199.7 290.0,200.3C291.3,200.9 292.8,202.9 294.4,202.8C296.0,202.7 297.4,199.4 299.4,199.6C301.4,199.8 303.7,202.3 306.3,204.0C308.9,205.7 312.2,207.9 315.1,209.7C318.0,211.5 321.0,212.9 323.9,214.7C326.8,216.5 330.0,218.9 332.7,220.4C335.4,221.9 338.2,223.2 340.3,223.9C342.4,224.6 343.6,224.8 345.3,224.4C347.0,224.0 348.2,223.1 350.3,221.6C352.4,220.1 355.3,217.1 357.8,215.4C360.3,213.7 362.9,211.6 365.4,211.3C367.9,211.0 370.0,213.0 372.9,213.5C375.8,214.0 379.4,214.1 383.0,214.1C386.6,214.1 391.4,213.6 394.3,213.5C397.2,213.4 398.3,213.3 400.6,213.8C402.9,214.3 404.9,215.8 408.1,216.6C411.3,217.4 415.5,218.6 420.0,218.5C424.5,218.4 430.6,217.3 435.2,216.3C439.8,215.3 444.2,213.4 447.8,212.3C451.4,211.2 453.7,211.0 456.6,209.7C459.5,208.4 462.7,206.5 465.4,204.7C468.1,202.9 470.6,200.7 472.9,199.1C475.2,197.5 477.1,196.2 479.2,195.3C481.3,194.4 484.0,193.7 485.5,193.4C487.0,193.1 487.1,191.7 488.0,193.4C488.9,195.1 489.5,199.8 490.7,203.8C491.9,207.9 493.5,212.9 495.1,217.7C496.7,222.5 498.4,228.3 500.1,232.7C501.8,237.1 503.4,240.5 505.1,244.0C506.8,247.5 508.3,250.6 510.2,253.5C512.1,256.4 514.1,259.4 516.4,261.6C518.7,263.8 522.0,265.1 524.0,266.7C526.0,268.2 525.4,269.0 528.2,270.9C531.0,272.8 536.6,276.4 540.8,277.9C545.0,279.4 549.2,280.0 553.4,279.7C557.6,279.4 562.2,277.4 566.0,275.9C569.8,274.4 573.2,272.4 576.0,270.9C578.8,269.4 580.8,268.4 583.0,266.7C585.2,264.9 587.2,261.8 589.3,260.4C591.4,259.0 593.3,259.9 595.6,258.5C597.9,257.1 600.7,254.0 603.1,252.2C605.5,250.3 608.0,248.4 610.0,247.4C612.0,246.4 613.3,246.7 615.0,246.4C616.7,246.1 618.1,245.3 620.0,245.5C621.9,245.7 624.0,246.5 626.3,247.7C628.6,248.8 631.5,251.2 633.8,252.4C636.1,253.6 638.2,253.9 640.1,254.9C642.0,255.9 643.1,258.1 645.2,258.7C647.3,259.3 650.2,258.1 652.7,258.3C655.2,258.6 657.7,259.2 660.2,260.2C662.7,261.1 665.3,262.5 667.8,264.0C670.3,265.5 672.4,267.9 675.3,269.0C678.2,270.1 682.0,269.8 685.4,270.3C688.8,270.8 692.0,271.6 695.4,272.2C698.8,272.8 702.9,273.4 705.5,274.0C708.1,274.6 709.3,274.5 711.1,275.9C712.9,277.3 714.6,281.3 716.3,282.6C718.0,283.9 719.6,282.1 721.3,283.6C723.0,285.1 724.4,288.8 726.3,291.4C728.2,294.0 730.5,297.0 732.6,299.5C734.7,302.0 736.8,304.4 738.9,306.4C741.0,308.4 742.9,309.2 745.2,311.5C747.5,313.8 750.2,317.4 752.7,320.3C755.2,323.2 758.0,326.5 760.3,329.0C762.6,331.5 764.8,333.4 766.5,335.3C768.2,337.2 769.0,338.1 770.3,340.4C771.6,342.7 773.1,346.9 774.1,349.1C775.1,351.4 775.2,351.4 776.4,353.9C777.6,356.4 779.7,360.8 781.4,364.0C783.1,367.2 784.7,370.7 786.4,373.4C788.1,376.1 789.6,378.3 791.4,380.3C793.2,382.3 795.4,384.8 797.1,385.4C798.8,386.0 799.7,385.1 801.5,384.1C803.3,383.2 806.0,380.9 807.8,379.7C809.6,378.4 809.9,377.2 812.2,376.6C814.5,376.0 818.2,375.8 821.6,375.9C825.0,376.0 829.4,377.3 832.9,377.4C836.4,377.5 839.5,376.8 842.9,376.6C846.2,376.4 849.6,376.3 853.0,376.3C856.4,376.3 860.6,376.1 863.0,376.4C865.4,376.7 865.6,376.8 867.6,378.3C869.6,379.8 872.6,382.9 875.1,385.3C877.6,387.7 880.6,390.5 882.7,392.8C884.8,395.1 886.0,397.5 887.7,399.1C889.4,400.7 891.0,400.9 892.7,402.2C894.4,403.4 896.2,404.8 897.7,406.6C899.2,408.4 899.7,409.7 901.5,412.9C903.3,416.1 906.2,422.0 908.7,425.8C911.2,429.6 914.1,433.4 916.2,435.8C918.3,438.2 919.9,439.4 921.3,440.4C922.6,441.4 923.8,441.4 924.3,441.6" stroke="#1c1c1c" stroke-width="1.05" fill="none"/>
<path d="M0.0,60.8C2.9,61.3 13.8,63.0 17.6,64.0C21.4,65.0 19.7,63.9 22.6,66.6C25.5,69.3 31.2,76.0 35.0,80.4C38.8,84.8 40.7,89.5 45.3,93.0C49.9,96.5 57.8,99.4 62.8,101.3C67.8,103.2 71.2,103.2 75.4,104.3C79.6,105.3 84.7,106.5 88.0,107.6C91.3,108.6 92.4,109.7 95.5,110.6C98.6,111.5 103.7,112.5 106.8,113.2C109.9,114.0 112.0,115.1 114.3,115.1C116.6,115.1 118.0,114.5 120.6,113.2C123.2,112.0 126.6,110.3 130.0,107.6C133.4,104.9 137.5,99.7 140.8,96.8C144.1,93.9 146.8,93.2 150.0,90.2C153.2,87.2 157.4,81.3 160.0,78.8C162.6,76.3 163.6,76.6 165.3,75.4C167.0,74.2 168.4,72.7 170.1,71.9C171.8,71.1 173.5,71.0 175.4,70.4C177.3,69.8 179.3,68.8 181.4,68.2C183.5,67.6 186.2,67.0 187.9,66.6C189.6,66.2 189.8,66.0 191.5,65.7C193.2,65.4 196.5,64.9 198.0,64.7C199.5,64.5 198.9,64.4 200.3,64.4C201.7,64.5 204.4,64.5 206.5,65.0C208.6,65.5 211.6,66.6 213.1,67.2C214.6,67.8 214.1,68.1 215.3,68.8C216.6,69.5 218.9,70.3 220.6,71.6C222.3,72.8 223.8,75.1 225.4,76.3C227.0,77.5 228.3,77.5 230.0,78.5C231.7,79.5 233.0,80.6 235.4,82.0C237.8,83.4 241.3,84.6 244.2,87.0C247.1,89.4 250.3,93.3 253.0,96.4C255.7,99.5 258.6,103.5 260.3,105.6C262.0,107.7 262.0,107.4 263.1,109.0C264.2,110.6 265.5,112.9 267.2,115.0C268.9,117.1 271.5,119.8 273.1,121.6C274.7,123.4 275.6,124.5 276.7,125.7C277.8,127.0 278.5,127.8 280.0,129.1C281.5,130.4 283.8,132.4 285.5,133.8C287.2,135.2 288.8,135.8 290.5,137.4C292.2,139.0 294.3,142.0 295.5,143.3C296.7,144.6 295.9,143.6 297.5,145.0C299.1,146.4 302.2,150.0 305.1,151.9C308.0,153.8 311.8,154.6 315.1,156.3C318.5,158.0 321.9,159.8 325.2,162.0C328.5,164.2 331.8,166.9 335.2,169.5C338.6,172.1 341.9,175.1 345.3,177.7C348.7,180.3 352.0,183.2 355.3,185.2C358.6,187.2 362.0,188.5 365.4,189.6C368.8,190.7 371.6,191.2 375.4,191.7C379.2,192.2 383.8,192.3 388.0,192.5C392.2,192.7 396.7,193.1 400.6,192.8C404.5,192.5 407.4,191.4 411.3,190.9C415.2,190.4 419.7,190.5 423.9,189.9C428.1,189.3 432.3,188.2 436.5,187.1C440.7,186.0 444.8,184.6 449.0,183.4C453.2,182.2 457.6,181.2 461.6,180.2C465.6,179.1 469.5,177.9 472.9,177.1C476.2,176.3 479.3,175.6 481.7,175.2C484.1,174.8 485.4,174.5 487.3,174.9C489.2,175.3 490.8,176.4 493.0,177.7C495.2,179.0 498.0,180.8 500.5,182.7C503.0,184.6 505.6,187.0 508.1,189.0C510.6,191.0 514.0,193.5 515.6,194.7C517.2,195.9 515.7,195.2 517.7,196.3C519.7,197.4 524.4,199.5 527.7,201.3C531.1,203.1 534.4,205.0 537.8,207.0C541.1,209.0 544.9,211.5 547.8,213.3C550.7,215.1 552.5,216.3 555.4,217.7C558.3,219.0 562.0,220.2 565.4,221.4C568.8,222.7 572.4,224.0 575.5,225.2C578.6,226.3 582.0,227.6 584.3,228.3C586.6,229.0 587.4,229.4 589.3,229.3C591.2,229.2 593.3,228.4 595.6,227.7C597.9,227.0 600.7,226.0 603.1,225.2C605.5,224.4 608.1,223.6 610.1,222.8C612.1,222.1 613.3,221.3 615.0,220.7C616.7,220.1 617.7,219.1 620.2,219.0C622.7,218.9 626.4,219.7 630.2,220.3C634.0,220.9 638.6,222.0 642.8,222.4C647.0,222.8 651.5,222.4 655.3,223.0C659.1,223.6 662.0,224.9 665.4,225.9C668.8,226.9 672.0,227.8 675.4,229.1C678.8,230.4 681.9,232.2 685.5,233.5C689.1,234.8 693.9,235.7 696.8,236.6C699.7,237.5 701.2,238.4 702.9,238.9C704.6,239.4 705.5,239.1 706.8,239.7C708.1,240.3 708.2,240.6 710.5,242.6C712.8,244.6 717.1,249.0 720.5,251.4C723.9,253.8 727.6,255.8 730.6,257.1C733.6,258.4 735.9,258.2 738.3,259.3C740.7,260.4 742.9,261.9 745.0,263.4C747.1,264.9 749.4,267.0 750.9,268.1C752.4,269.2 752.0,268.9 754.0,270.0C756.0,271.1 759.7,272.7 762.8,275.0C765.9,277.3 769.4,280.2 772.8,283.8C776.1,287.4 779.5,292.4 782.9,296.4C786.2,300.4 789.5,304.2 792.9,307.7C796.2,311.1 800.1,314.8 803.0,317.1C805.9,319.4 807.6,320.3 810.5,321.5C813.4,322.7 817.2,323.9 820.6,324.3C824.0,324.7 828.1,323.9 830.6,323.8C833.1,323.7 833.4,323.3 835.4,323.5C837.4,323.7 840.6,324.9 842.7,325.1C844.8,325.3 845.9,324.8 848.0,324.8C850.1,324.8 853.0,325.4 855.3,325.3C857.6,325.2 859.7,324.3 861.8,324.4C863.9,324.5 865.8,325.1 868.1,325.7C870.4,326.3 872.8,327.4 875.6,328.2C878.4,329.0 881.3,329.9 885.0,330.7C888.7,331.5 894.8,332.1 898.0,333.1C901.2,334.1 902.2,335.2 904.2,336.6C906.2,338.0 908.5,340.3 909.9,341.7C911.3,343.1 910.4,343.0 912.8,345.1C915.2,347.2 922.4,353.0 924.3,354.6" stroke="#333" stroke-width="1" fill="none"/>
</g>
<path d="M0,396.5H964" stroke="#2d4a73" stroke-width="1"/>
<rect x="0.5" y="0.5" width="964" height="450" fill="none" stroke="#cbd0e5" stroke-width="1"/>
<rect x="5" y="5" width="79" height="20.8" fill="#000" fill-opacity="0.62"/>
<rect x="5" y="5" width="2" height="20.8" fill="#2a8a78"/>
<text x="15.8" y="20.0" fill="#fff" stroke="#fff" stroke-width="0.3">EUR/USD</text>
<rect x="5" y="32" width="84" height="20.8" fill="#000" fill-opacity="0.62"/>
<rect x="5" y="32" width="2" height="20.8" fill="#f06000"/>
<text x="15.8" y="46.0" fill="#fff" stroke="#fff" stroke-width="0.3">EMA (50,0)</text>
<rect x="5" y="59" width="90" height="20.8" fill="#000" fill-opacity="0.62"/>
<rect x="5" y="59" width="2" height="20.8" fill="#b3a100"/>
<text x="15.8" y="73.0" fill="#fff" stroke="#fff" stroke-width="0.3">EMA (100,0)</text>
<rect x="5" y="86" width="101" height="20.8" fill="#000" fill-opacity="0.62"/>
<rect x="5" y="86" width="2" height="20.8" fill="#000"/>
<text x="15.8" y="100.0" fill="#fff" stroke="#fff" stroke-width="0.3">BOLL (20,2,-2)</text>
<path d="M472,453.5H492M472,455.5H492M472,457.5H492" stroke="#6b6363" stroke-width="0.8"/>
<rect x="0" y="459.5" width="964.5" height="170.5" fill="#f7f7f7"/>
<path d="M0,494.5H964M0,528.5H964M0,561.5H964M0,595.5H964M71.5,460V630M192.5,460V630M289.5,460V630M385.5,460V630M543.5,460V630M700.5,460V630M853.5,460V630M949.5,460V630" stroke="#e5e5e5" stroke-width="1" fill="none"/>
<g clip-path="url(#cr)">
<rect x="0" y="461.3" width="924.5" height="50.2" fill="#00ff00" fill-opacity="0.5"/>
<rect x="0" y="578.5" width="924.5" height="51" fill="#ff0000" fill-opacity="0.5"/>
<path d="M0,512.5H925" stroke="#fff" stroke-width="1" fill="none" stroke-opacity="0.8"/>
<path d="M0,577.5H925.5" stroke="#fff" stroke-width="1" fill="none" stroke-opacity="0.8"/>
<path d="M925.5,461.3V512.5M925.5,577.5V630" stroke="#fff" stroke-width="1" fill="none" stroke-opacity="0.8"/>
<path d="M0,511.5H924.5" stroke="#023802" stroke-width="1" stroke-dasharray="4.5 0.5" fill="none"/>
<path d="M0,578.5H924.5" stroke="#3c0202" stroke-width="1" stroke-dasharray="4.5 0.5" fill="none"/>
<path d="M924.5,461.3V512" stroke="#023002" stroke-width="1" fill="none"/>
<path d="M924.5,578V630" stroke="#3c0202" stroke-width="1" fill="none"/>
<polyline points="0.1,548.3 5.1,548.1 10.2,552.6 15.3,558.9 20.4,565.2 25.5,570.7 30.5,572.7 35.6,577.7 40.7,580.8 45.8,562.7 50.8,567.7 55.9,559.4 61.0,561.9 66.1,561.2 71.1,554.4 76.2,554.6 81.3,556.9 86.4,553.9 91.5,548.8 96.5,544.3 101.6,538.3 106.7,546.8 111.8,555.6 116.8,533.7 121.9,521.9 127.0,529.5 132.1,530.0 137.1,532.0 142.2,527.0 147.3,513.4 152.4,515.4 157.5,513.6 162.5,518.7 167.6,533.2 172.7,543.8 177.8,553.9 182.8,551.6 187.9,552.1 193.0,552.4 198.1,545.8 203.1,555.9 208.2,569.5 213.3,572.5 218.4,572.0 223.5,572.2 228.5,566.4 233.6,561.4 238.7,558.4 243.8,558.9 248.8,560.9 253.9,562.4 259.0,563.7 264.1,576.5 269.2,582.8 274.2,584.5 279.3,586.0 284.4,583.3 289.5,576.7 294.5,578.0 299.6,566.7 304.7,577.5 309.8,569.2 314.8,569.5 319.9,565.7 325.0,570.5 330.1,574.2 335.2,575.5 340.2,578.5 345.3,576.7 350.4,561.9 355.5,565.4 360.5,569.2 365.6,562.4 370.7,566.4 375.8,565.2 380.8,553.9 385.9,549.6 391.0,547.6 396.1,551.3 401.2,536.5 406.2,533.2 411.3,534.0 416.4,535.3 421.5,556.1 426.5,552.6 431.6,548.3 436.7,546.1 441.8,531.7 446.8,535.8 451.9,538.5 457.0,543.0 462.1,543.8 467.2,546.6 472.2,545.8 477.3,537.3 482.4,545.1 487.5,548.1 492.5,580.3 497.6,584.8 502.7,587.3 507.8,576.5 512.8,566.9 517.9,570.2 523.0,559.6 528.1,564.7 533.2,565.7 538.2,558.6 543.3,560.1 548.4,561.4 553.5,560.7 558.5,542.0 563.6,545.3 568.7,542.8 573.8,548.1 578.8,541.3 583.9,534.2 589.0,548.3 594.1,549.6 599.2,549.1 604.2,550.1 609.3,543.3 614.4,536.3 619.5,530.5 624.5,558.9 629.6,562.7 634.7,566.9 639.8,556.9 644.8,563.9 649.9,550.3 655.0,551.8 660.1,551.6 665.2,555.1 670.2,557.9 675.3,561.4 680.4,549.1 685.5,555.6 690.5,553.4 695.6,552.9 700.7,553.1 705.8,557.9 710.9,561.9 715.9,577.2 721.0,575.3 726.1,575.5 731.2,577.5 736.2,578.0 741.3,566.5 746.4,576.5 751.5,577.5 756.5,577.8 761.6,580.6 766.7,577.8 771.8,586.6 776.9,594.4 781.9,595.0 787.0,595.1 792.1,595.4 797.2,591.0 802.2,563.3 807.3,544.1 812.4,549.5 817.5,550.4 822.5,543.2 827.6,530.0 832.7,536.0 837.8,541.3 842.9,546.8 847.9,546.1 853.0,551.1 858.1,548.1 863.2,546.3 868.2,563.9 873.3,574.7 878.4,579.8 883.5,580.5 888.5,583.3 893.6,573.7 898.7,576.5 903.8,582.0 908.9,570.5 913.9,571.5 919.0,574.2 924.1,569.0" stroke="#1c42ff" stroke-width="1.35" fill="none" stroke-linejoin="round"/>
</g>
<rect x="0.5" y="459.5" width="964" height="170" fill="none" stroke="#cbd0e5" stroke-width="1"/>
<path d="M0.5,461.3V512" stroke="#022a02" stroke-width="1" fill="none"/>
<path d="M0.5,578V629.5" stroke="#3a0202" stroke-width="1" fill="none"/>
<rect x="5" y="464" width="110" height="20.8" fill="#000" fill-opacity="0.62"/>
<rect x="5" y="464" width="2" height="20.8" fill="#00ff00"/>
<text x="15.8" y="478.0" fill="#fff" stroke="#fff" stroke-width="0.3">RSI (14,70,30,1)</text>
<text x="972" y="42.5" fill="#555">1.0900</text>
<text x="972" y="83.8" fill="#555">1.0850</text>
<text x="972" y="125.2" fill="#555">1.0800</text>
<text x="972" y="166.8" fill="#555">1.0750</text>
<text x="972" y="208.2" fill="#555">1.0700</text>
<text x="972" y="249.9" fill="#555">1.0650</text>
<text x="972" y="291.2" fill="#555">1.0600</text>
<text x="972" y="332.9" fill="#555">1.0550</text>
<text x="972" y="374.2" fill="#555">1.0500</text>
<text x="972" y="416.1" fill="#555">1.0450</text>
<text x="972" y="499.2" fill="#555">80.0000</text>
<text x="972" y="532.2" fill="#555">60.0000</text>
<text x="972" y="566.0" fill="#555">40.0000</text>
<text x="972" y="599.0" fill="#555">20.0000</text>
<text x="972" y="632.8" fill="#555">0.0000</text>
<path d="M967.6,396L975.2,388.2H1016.5V403.8H975.2Z" fill="#2d4a73"/>
<text x="972.4" y="401.1" fill="#fff" font-weight="bold">1.04686</text>
<text x="71.5" y="647" text-anchor="middle" fill="#666">28</text>
<text x="192.7" y="647" text-anchor="middle" fill="#555" font-weight="bold">Sep</text>
<text x="289.5" y="647" text-anchor="middle" fill="#666">6</text>
<text x="385.5" y="647" text-anchor="middle" fill="#666">11</text>
<text x="543.5" y="647" text-anchor="middle" fill="#666">18</text>
<text x="700.5" y="647" text-anchor="middle" fill="#666">25</text>
<text x="852.5" y="647" text-anchor="middle" fill="#555" font-weight="bold">Oct</text>
<text x="949.7" y="647" text-anchor="middle" fill="#666">5</text>
</svg></body></html>
